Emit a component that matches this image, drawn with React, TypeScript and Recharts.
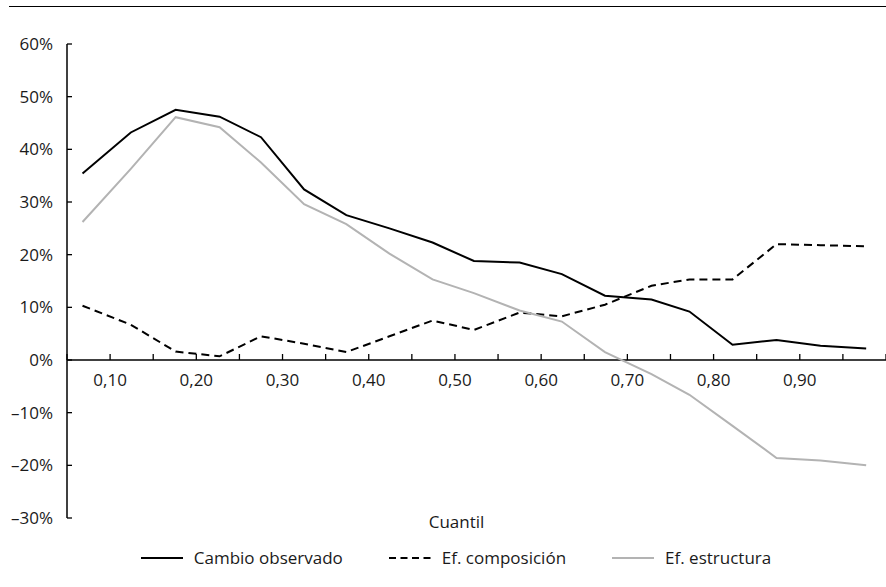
import React from 'react';
import { LineChart, Line, XAxis, YAxis, ReferenceLine, Legend } from 'recharts';

// quantile positions (x) and the three series, in %
const quantiles = [0.068, 0.124, 0.176, 0.227, 0.275, 0.325, 0.374, 0.424, 0.474, 0.522, 0.575, 0.624, 0.674, 0.728, 0.772, 0.822, 0.873, 0.924, 0.977];
const cambioObservado = [35.4, 43.2, 47.5, 46.2, 42.3, 32.4, 27.5, 25.0, 22.3, 18.8, 18.5, 16.3, 12.2, 11.5, 9.2, 2.9, 3.8, 2.7, 2.2];
const efComposicion = [10.3, 6.7, 1.6, 0.7, 4.5, 3.1, 1.5, 4.5, 7.5, 5.7, 9.0, 8.3, 10.5, 14.1, 15.3, 15.3, 22.0, 21.8, 21.6];
const efEstructura = [26.2, 36.3, 46.1, 44.2, 37.5, 29.6, 25.8, 20.2, 15.3, 12.7, 9.4, 7.3, 1.5, -2.7, -6.6, -12.5, -18.6, -19.1, -20.0];

const xTicks = [0.05, 0.1, 0.15, 0.2, 0.25, 0.3, 0.35, 0.4, 0.45, 0.5, 0.55, 0.6, 0.65, 0.7, 0.75, 0.8, 0.85, 0.9, 0.95, 1.0];
const xLabelled = [0.1, 0.2, 0.3, 0.4, 0.5, 0.6, 0.7, 0.8, 0.9];
const yTicks = [-30, -20, -10, 0, 10, 20, 30, 40, 50, 60];

const series = [
  { key: 'observado', name: 'Cambio observado', color: '#000000', dash: undefined },
  { key: 'composicion', name: 'Ef. composición', color: '#000000', dash: '8 5' },
  { key: 'estructura', name: 'Ef. estructura', color: '#b3b3b3', dash: undefined },
];

const data = quantiles.map((q, i) => ({
  q,
  observado: cambioObservado[i],
  composicion: efComposicion[i],
  estructura: efEstructura[i],
}));

const W = 886;
const H = 587;
const TOP = 44;
const BOTTOM = 68;
const X_AXIS_H = 1;
const FONT = '"Open Sans", sans-serif';
const FS = 17;
const PLOT_H = H - TOP - BOTTOM - X_AXIS_H;
const Y_MIN = -30;
const Y_MAX = 60;
// distance from the bottom of the plot to the zero line
const ZERO_OFFSET = (PLOT_H * (0 - Y_MIN)) / (Y_MAX - Y_MIN);

const fmtPct = (v: number) => (v < 0 ? '\u2013' + Math.abs(v) : String(v)) + '%';

const XTick = (props: any) => {
  const { x, y, payload } = props;
  const zeroY = y - ZERO_OFFSET;
  const v = payload.value;
  const show = xLabelled.some((l) => Math.abs(l - v) < 1e-6);
  return (
    <g>
      <line x1={x} x2={x} y1={zeroY} y2={zeroY - 6} stroke="#000" strokeWidth={1.3} />
      {show && (
        <text x={x} y={zeroY + 26} textAnchor="middle" fill="#1a1a1a" fontSize={FS} fontFamily={FONT}>
          {v.toFixed(2).replace('.', ',')}
        </text>
      )}
    </g>
  );
};

const YTick = (props: any) => {
  const { x, y, payload } = props;
  return (
    <g>
      <line x1={x} x2={x + 5} y1={y} y2={y} stroke="#000" strokeWidth={1.3} />
      <text x={x - 14} y={y} dy={6} textAnchor="end" fill="#1a1a1a" fontSize={FS} fontFamily={FONT}>
        {fmtPct(payload.value)}
      </text>
    </g>
  );
};

const LegendContent = () => (
  <div style={{ display: 'flex', justifyContent: 'center', gap: 46, fontFamily: FONT, fontSize: FS, color: '#1a1a1a' }}>
    {series.map((s) => (
      <div key={s.key} style={{ display: 'flex', alignItems: 'center' }}>
        <svg width={42} height={10} style={{ marginRight: 11 }}>
          <line x1={0} x2={42} y1={5} y2={5} stroke={s.color} strokeWidth={2} strokeDasharray={s.dash ? '7 4.5' : undefined} />
        </svg>
        <span>{s.name}</span>
      </div>
    ))}
  </div>
);

export default function App() {
  return (
    <div style={{ position: 'absolute', left: 0, top: 0, width: W, height: H, background: '#fff' }}>
      <div style={{ position: 'absolute', left: 9, top: 6, width: W - 9, borderTop: '1.5px solid #000' }} />
      <LineChart width={W} height={H} data={data} margin={{ top: TOP, right: 0, bottom: BOTTOM, left: 7 }}>
        <XAxis
          dataKey="q"
          type="number"
          domain={[0.05, 1.0]}
          ticks={xTicks}
          interval={0}
          height={X_AXIS_H}
          axisLine={false}
          tickLine={false}
          tickSize={0}
          tickMargin={0}
          tick={<XTick />}
          label={{ value: 'Cuantil', position: 'center', dx: -20, dy: 3, fontSize: FS, fontFamily: FONT, fill: '#1a1a1a' }}
        />
        <YAxis
          type="number"
          domain={[Y_MIN, Y_MAX]}
          ticks={yTicks}
          interval={0}
          width={60}
          axisLine={{ stroke: '#000', strokeWidth: 1.5 }}
          tickLine={false}
          tickSize={0}
          tickMargin={0}
          tick={<YTick />}
        />
        <ReferenceLine y={0} stroke="#000" strokeWidth={1.5} />
        {series.map((s) => (
          <Line
            key={s.key}
            dataKey={s.key}
            name={s.name}
            type="linear"
            stroke={s.color}
            strokeWidth={2}
            strokeDasharray={s.dash}
            dot={false}
            activeDot={false}
            isAnimationActive={false}
          />
        ))}
        <Legend
          verticalAlign="middle"
          align="center"
          layout="horizontal"
          content={<LegendContent />}
          wrapperStyle={{ position: 'absolute', left: 0, top: 546, width: 912, height: 24 }}
        />
      </LineChart>
    </div>
  );
}
